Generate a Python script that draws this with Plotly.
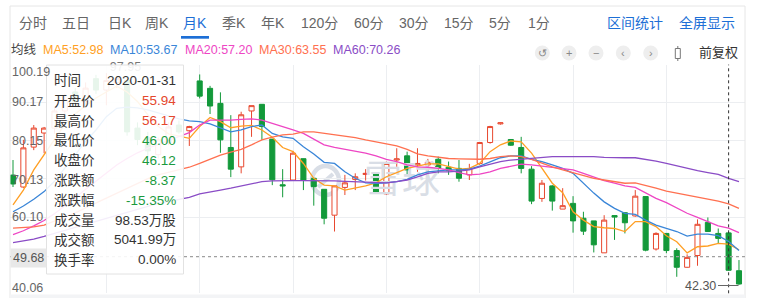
import plotly.graph_objects as go

W, H = 757, 298

# ---------------- data (monthly K) ----------------
open_ = [71.15, 68.0, 78.5, 82.2, 83.5, 88.0, 93.0, 90.5, 96.5, 93.5,
         95.5, 96.0, 83.5, 81.0, 76.5, 79.6, 84.3, 82.8, 95.9, 93.95,
         90.0, 78.4, 73.3, 88.0, 89.75, 80.6, 68.6, 69.85, 75.45, 70.3,
         67.4, 60.6, 67.9, 70.0, 71.3, 71.8, 66.2, 75.1, 76.2, 73.8,
         73.8, 75.3, 73.2, 72.9, 71.2, 74.2, 79.7, 84.6, 80.5, 78.4,
         72.7, 65.0, 68.3, 62.2, 63.7, 59.8, 59.1, 50.7, 60.5, 61.25,
         60.4, 65.5, 51.7, 55.8, 51.3, 46.9, 50.0, 58.7, 55.8, 55.94,
         46.0]
high = [75.1, 80.4, 84.3, 83.8, 89.0, 92.5, 94.0, 95.5, 97.5, 97.95,
        97.2, 96.5, 85.0, 82.5, 81.0, 85.0, 85.5, 84.1, 97.6, 94.6,
        92.9, 86.9, 87.8, 89.4, 89.8, 80.6, 72.7, 77.5, 75.5, 70.3,
        67.4, 68.3, 71.2, 71.6, 72.7, 71.8, 74.7, 78.2, 77.3, 78.2,
        75.4, 76.0, 74.7, 75.1, 74.1, 79.7, 84.1, 85.0, 80.6, 81.2,
        73.5, 69.85, 68.5, 67.7, 65.6, 61.5, 59.1, 60.6, 60.5, 61.3,
        67.2, 65.5, 56.1, 55.8, 51.9, 50.3, 59.5, 60.0, 57.1, 56.17,
        48.8]
low = [68.0, 67.8, 77.7, 76.9, 82.0, 86.5, 89.0, 89.5, 92.5, 89.5,
       94.0, 81.5, 79.0, 76.0, 75.5, 79.0, 82.0, 78.8, 91.3, 87.2,
       77.0, 70.6, 71.6, 81.2, 80.4, 68.5, 65.3, 69.8, 67.2, 63.1,
       58.2, 56.3, 65.9, 67.2, 69.7, 66.5, 65.9, 73.3, 71.2, 72.0,
       69.85, 71.6, 71.2, 69.4, 69.85, 73.8, 79.4, 84.4, 78.8, 71.6,
       63.5, 64.1, 61.8, 62.2, 56.0, 55.4, 50.8, 50.7, 54.1, 55.8,
       60.2, 51.1, 51.3, 50.6, 44.4, 46.8, 47.3, 56.2, 53.2, 46.00,
       42.30]
close = [68.8, 78.3, 83.5, 83.5, 88.0, 91.0, 90.5, 94.0, 93.5, 96.0,
         96.5, 82.5, 80.5, 77.5, 80.4, 83.8, 82.5, 83.9, 91.9, 89.3,
         80.4, 72.7, 87.0, 89.4, 83.9, 69.9, 68.3, 76.9, 69.85, 68.1,
         59.8, 68.3, 69.1, 70.7, 71.6, 66.5, 74.2, 75.4, 72.5, 74.2,
         74.5, 72.9, 72.3, 70.3, 72.9, 79.7, 83.9, 84.9, 79.0, 72.9,
         64.3, 69.0, 64.3, 63.1, 59.1, 56.4, 52.8, 59.3, 60.1, 58.6,
         65.6, 51.4, 55.8, 51.3, 46.9, 49.5, 58.2, 56.3, 54.5, 46.12,
         42.5]
ma5 = [63.3, 67.2, 72.5, 76.4, 80.4, 84.5, 87.3, 89.4, 91.4, 93.0,
       94.5, 93.0, 90.5, 87.0, 84.0, 82.0, 81.3, 80.8, 83.9, 86.3,
       85.2, 83.6, 84.0, 84.2, 83.0, 81.1, 78.4, 77.3, 74.2, 70.3,
       68.5, 68.3, 67.2, 67.7, 68.3, 69.1, 70.7, 71.8, 72.9, 73.5,
       74.1, 74.1, 73.3, 72.7, 72.9, 74.2, 77.3, 79.1, 80.1, 79.9,
       76.9, 72.9, 69.0, 66.5, 61.5, 59.3, 57.6, 57.3, 57.1, 56.3,
       58.9, 58.9, 57.6, 55.2, 53.6, 50.7, 52.3, 52.5, 53.2, 52.98,
       51.5]
ma10 = [61.5, 63.0, 64.8, 66.8, 69.5, 73.0, 76.5, 80.0, 83.0, 86.5,
        88.7, 89.0, 88.8, 88.3, 87.5, 86.6, 85.9, 85.4, 85.2, 84.6,
        83.6, 82.5, 83.0, 83.9, 84.3, 82.1, 81.2, 80.8, 78.6, 76.7,
        74.5, 74.2, 72.0, 70.3, 69.1, 69.0, 69.1, 69.4, 70.0, 71.2,
        72.0, 72.3, 72.5, 72.5, 72.7, 73.5, 74.7, 75.7, 76.2, 76.2,
        75.3, 74.7, 73.8, 72.9, 71.6, 69.0, 66.4, 64.1, 62.4, 61.1,
        60.8, 59.3, 58.0, 57.1, 56.3, 55.1, 55.6, 55.6, 55.2, 53.67,
        51.3]
ma20 = [55.5, 56.5, 57.8, 59.2, 61.0, 63.0, 65.2, 67.4, 69.6, 71.8,
        73.8, 75.5, 77.0, 78.2, 79.2, 80.2, 81.3, 82.3, 84.3, 85.6,
        85.6, 85.6, 85.8, 85.9, 85.6, 84.8, 83.9, 83.0, 82.1, 80.5,
        79.1, 78.4, 77.9, 77.5, 76.9, 76.2, 75.3, 74.7, 73.8, 73.3,
        73.2, 72.9, 72.5, 71.8, 71.2, 71.4, 72.0, 72.9, 73.5, 74.0,
        73.8, 73.5, 73.2, 72.9, 72.5, 71.6, 70.6, 69.7, 69.0, 68.3,
        67.9, 66.4, 65.0, 63.9, 62.4, 61.1, 60.0, 58.9, 57.8, 57.20,
        56.0]
ma30 = [57.2, 57.3, 57.5, 58.0, 59.0, 60.0, 61.2, 62.5, 63.8, 65.2,
        66.5, 67.8, 69.0, 70.2, 71.2, 71.9, 72.5, 73.2, 74.2, 75.3,
        76.4, 77.2, 77.9, 79.1, 80.4, 81.1, 81.7, 81.9, 82.5, 82.5,
        82.1, 81.7, 81.4, 81.0, 80.4, 79.8, 79.3, 78.8, 77.9, 76.7,
        76.2, 75.8, 75.5, 75.4, 75.3, 75.3, 75.5, 76.0, 76.2, 76.0,
        75.3, 74.2, 73.3, 72.5, 71.8, 71.2, 70.3, 69.85, 69.4, 69.0,
        69.1, 68.5, 67.7, 66.9, 66.4, 65.9, 65.5, 64.8, 64.3, 63.55,
        62.4]
ma60 = [53.4, 53.8, 54.3, 55.0, 55.8, 56.6, 57.4, 58.2, 59.0, 59.8,
        60.6, 61.4, 62.2, 63.0, 63.7, 64.2, 64.8, 65.3, 66.2, 66.8,
        67.2, 67.7, 68.3, 68.8, 69.4, 69.6, 69.7, 69.7, 69.7, 69.7,
        69.6, 69.6, 69.5, 69.4, 69.3, 69.1, 69.1, 69.4, 69.85, 70.7,
        71.6, 72.0, 72.0, 72.2, 72.5, 73.3, 74.1, 74.7, 75.1, 75.3,
        75.5, 75.8, 76.0, 76.0, 76.0, 76.0, 76.0, 75.8, 75.7, 75.7,
        75.7, 75.3, 74.8, 74.2, 73.5, 72.9, 72.3, 71.8, 71.3, 70.26,
        69.4]
ytick_labels = ["100.19", "90.17", "80.15", "70.13", "60.10", "40.06"]
ytick_vals = [100.19, 90.17, 80.15, 70.13, 60.10, 40.06]
cross_price = 49.68
max_label = "97.95"
min_label = "42.30"
hover_index = 69
tip_rows = [("时间", "2020-01-31"), ("开盘价", "55.94"), ("最高价", "56.17"),
            ("最低价", "46.00"), ("收盘价", "46.12"), ("涨跌额", "-8.37"),
            ("涨跌幅", "-15.35%"), ("成交量", "98.53万股"), ("成交额", "5041.99万"),
            ("换手率", "0.00%")]
tip_colors = ["#333", "#e5472d", "#e5472d", "#1a9a3e", "#1a9a3e", "#1a9a3e",
              "#1a9a3e", "#333", "#333", "#333"]
tabs = ["分时", "五日", "日K", "周K", "月K", "季K", "年K", "120分", "60分",
        "30分", "15分", "5分", "1分"]
ma_names = ["MA5", "MA10", "MA20", "MA30", "MA60"]
ma_legend = ["52.98", "53.67", "57.20", "63.55", "70.26"]

idx = list(range(len(close)))

# ---------------- styling ----------------
RED = "#e8482f"
GREEN = "#13993a"
MA_COLORS = ["#ff9f24", "#3a86d8", "#ee46c4", "#ff7050", "#8a4cc6"]
FONT = "Liberation Sans, Noto Sans CJK SC, sans-serif"
BLUE = "#1d6fd6"
WM = "#d9dee6"


def X(p):
    return p / W


def Y(p):
    return 1 - p / H


PLOT_L, PLOT_R, PLOT_T, PLOT_B = 10, 745, 64.6, 293.3
X_RANGE = [-0.29, 70.58]
Y_RANGE = [40.06, 100.19]


def kx(px):
    # pixel -> x data
    return X_RANGE[0] + (px - PLOT_L) / (PLOT_R - PLOT_L) * (X_RANGE[1] - X_RANGE[0])


def vy(py):
    # pixel -> y data
    return Y_RANGE[0] + (PLOT_B - py) / (PLOT_B - PLOT_T) * (Y_RANGE[1] - Y_RANGE[0])


fig = go.Figure()

# watermark (below candles)
fig.add_trace(go.Scatter(x=[kx(402)], y=[vy(183)], mode="text", text=["雪球"],
                         textfont=dict(size=38, color=WM, family="Noto Sans CJK SC"),
                         hoverinfo="skip", showlegend=False))

fig.add_trace(go.Candlestick(
    x=idx, open=open_, high=high, low=low, close=close,
    increasing=dict(line=dict(color=RED, width=1), fillcolor="white"),
    decreasing=dict(line=dict(color=GREEN, width=1), fillcolor=GREEN),
    whiskerwidth=0, hoverinfo="skip", showlegend=False))

for vals, col in zip([ma5, ma10, ma20, ma30, ma60], MA_COLORS):
    fig.add_trace(go.Scatter(x=idx, y=vals, mode="lines",
                             line=dict(color=col, width=1.3),
                             hoverinfo="skip", showlegend=False))

# max marker label (sits under the tooltip)
fig.add_trace(go.Scatter(x=[kx(125.5)], y=[vy(67.5)], mode="text", text=[max_label],
                         textfont=dict(size=12.5, color="#777", family=FONT),
                         cliponaxis=False, hoverinfo="skip", showlegend=False))

shapes = []
# widget frame
shapes.append(dict(type="line", xref="paper", yref="paper", x0=X(10), x1=X(745), y0=Y(6), y1=Y(6),
                   line=dict(color="#e6e6e6", width=1)))
shapes.append(dict(type="line", xref="paper", yref="paper", x0=X(10), x1=X(10), y0=Y(6), y1=Y(298),
                   line=dict(color="#e6e6e6", width=1)))
shapes.append(dict(type="line", xref="paper", yref="paper", x0=X(745), x1=X(745), y0=Y(6), y1=Y(298),
                   line=dict(color="#e6e6e6", width=1)))
# tab underline
shapes.append(dict(type="rect", xref="paper", yref="paper", x0=X(181), x1=X(209), y0=Y(38.7), y1=Y(36),
                   fillcolor=BLUE, line=dict(width=0)))
# bottom strip
shapes.append(dict(type="rect", xref="paper", yref="paper", x0=X(10), x1=X(745), y0=Y(298), y1=Y(294.5),
                   fillcolor="#f3f4f6", line=dict(width=0)))
# icon buttons
for cx in [542.3, 569, 596, 623.3, 650.7]:
    shapes.append(dict(type="circle", xref="paper", yref="paper", x0=X(cx - 7.5), x1=X(cx + 7.5),
                       y0=Y(53 + 7.5), y1=Y(53 - 7.5), fillcolor="#eeeeee", line=dict(width=0)))
shapes.append(dict(type="rect", xref="paper", yref="paper", x0=X(675.3), x1=X(680.3), y0=Y(58.5), y1=Y(48.5),
                   fillcolor="white", line=dict(color="#777", width=1)))
shapes.append(dict(type="line", xref="paper", yref="paper", x0=X(677.8), x1=X(677.8), y0=Y(61), y1=Y(58.5),
                   line=dict(color="#777", width=1)))
shapes.append(dict(type="line", xref="paper", yref="paper", x0=X(677.8), x1=X(677.8), y0=Y(48.5), y1=Y(46),
                   line=dict(color="#777", width=1)))
# watermark logo ring
shapes.append(dict(type="circle", xref="paper", yref="paper", x0=X(312), x1=X(339), y0=Y(195), y1=Y(166),
                   line=dict(color=WM, width=4.5), layer="between"))
shapes.append(dict(type="line", xref="paper", yref="paper", x0=X(318), x1=X(333), y0=Y(187), y1=Y(174),
                   line=dict(color=WM, width=4), layer="between"))
# crosshair
shapes.append(dict(type="line", xref="x", yref="paper", x0=hover_index, x1=hover_index,
                   y0=Y(PLOT_B), y1=Y(PLOT_T), line=dict(color="#333", width=1, dash="dot")))
shapes.append(dict(type="line", xref="paper", yref="y", x0=X(PLOT_L), x1=X(PLOT_R),
                   y0=cross_price, y1=cross_price, line=dict(color="#a0a0a0", width=1.3, dash="dot")))
# min marker line
shapes.append(dict(type="line", xref="paper", yref="paper", x0=X(718), x1=X(738.5), y0=Y(285.5), y1=Y(285.5),
                   line=dict(color="#666", width=1)))
# tooltip box
shapes.append(dict(type="rect", xref="paper", yref="paper", x0=X(46.5), x1=X(183.5), y0=Y(274), y1=Y(65),
                   fillcolor="rgba(255,255,255,0.9)", line=dict(color="#e2e2e2", width=1)))

ann = []


def A(x, y, text, size=12, color="#666", xanchor="left", **kw):
    d = dict(x=X(x), y=Y(y), xref="paper", yref="paper", text=text, showarrow=False,
             xanchor=xanchor, yanchor="middle", font=dict(size=size, color=color, family=FONT))
    d.update(kw)
    ann.append(d)


tab_x = [18, 61, 107, 144, 182, 221, 260, 300, 353, 398, 443, 488, 527]
for t, x in zip(tabs, tab_x):
    A(x - 1, 23.5, t, size=14, color=BLUE if t == "月K" else "#666")
A(605, 23.5, "区间统计", size=14, color=BLUE)
A(677, 23.5, "全屏显示", size=14, color=BLUE)

# MA legend row
A(9, 50, "均线", size=12.5, color="#444")
for name, v, col, x in zip(ma_names, ma_legend, MA_COLORS, [41, 108.3, 183, 257.3, 330.7]):
    A(x, 50, f"{name}:{v}", size=12.5, color=col)
for g, cx in zip(["↺", "+", "−", "‹", "›"], [542.3, 569, 596, 623.3, 650.7]):
    A(cx, 53, g, size=11, color="#888", xanchor="center")
A(697, 52.5, "前复权", size=13, color="#333")

# y labels
ylab_y = [72, 102.3, 140.5, 179.5, 217.3, 288]
for t, yy in zip(ytick_labels, ylab_y):
    A(10, yy, t, size=12.5, color="#666")
A(10, 258, str(cross_price), size=12.5, color="#555", bgcolor="#e8e8e8", borderpad=2)
A(718, 286, min_label, size=12.5, color="#555", xanchor="right")

# tooltip rows
for i, ((lab, val), col) in enumerate(zip(tip_rows, tip_colors)):
    yy = 80.7 + i * 19.9
    A(52, yy, lab, size=13.5, color="#333")
    A(178, yy, val, size=13.5, color=col, xanchor="right")

fig.update_layout(
    width=W, height=H, margin=dict(l=0, r=0, t=0, b=0),
    paper_bgcolor="white", plot_bgcolor="white", showlegend=False,
    shapes=shapes, annotations=ann, boxgap=0.3,
    xaxis=dict(domain=[X(PLOT_L), X(PLOT_R)], range=X_RANGE,
               tickvals=[9, 18, 27, 36, 45, 54, 63], showticklabels=False,
               showgrid=True, gridcolor="#eceef1", zeroline=False, showline=False,
               rangeslider=dict(visible=False), fixedrange=True),
    yaxis=dict(domain=[Y(PLOT_B), Y(PLOT_T)], range=Y_RANGE,
               tickvals=ytick_vals[:-1], showticklabels=False, showgrid=True,
               gridcolor="#eceef1", zeroline=False, showline=False, fixedrange=True),
)

fig.write_html("out.html")
